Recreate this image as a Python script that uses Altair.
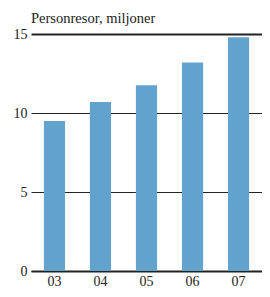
import altair as alt
import pandas as pd

years = ["03", "04", "05", "06", "07"]
values = [9.5, 10.7, 11.75, 13.2, 14.8]
y_ticks = [0, 5, 10, 15]

df = pd.DataFrame({"year": years, "value": values})

FONT = "Liberation Serif"

chart = alt.Chart(df).mark_bar(color="#62A3CE").encode(
    x=alt.X("year:N", sort=years, title=None,
            scale=alt.Scale(paddingInner=0.54, paddingOuter=0.28),
            axis=alt.Axis(labelAngle=0, ticks=False, domain=True, domainColor="#222222",
                          domainWidth=2, labelFont=FONT, labelFontSize=14,
                          labelColor="#222222", labelPadding=3, grid=False)),
    y=alt.Y("value:Q", title=None,
            scale=alt.Scale(domain=[0, 15], nice=False),
            axis=alt.Axis(values=y_ticks, ticks=False, domain=False, grid=True,
                          gridColor="#222222",
                          gridWidth={"condition": {"test": "datum.value == 15", "value": 2}, "value": 1},
                          gridOpacity=1,
                          labelFont=FONT, labelFontSize=14, labelColor="#222222",
                          labelPadding=4)),
).properties(
    width=231,
    height=237,
    title=alt.TitleParams("Personresor, miljoner", anchor="start", frame="group", font=FONT,
                          fontSize=14.5, fontWeight="normal", color="#222222", offset=1),
    autosize=alt.AutoSizeParams(type="none"),
    padding={"left": 23, "top": 26, "right": 0, "bottom": 18},
).configure_view(stroke=None)

chart.save("out.html", embed_options={"renderer": "svg", "actions": False})
